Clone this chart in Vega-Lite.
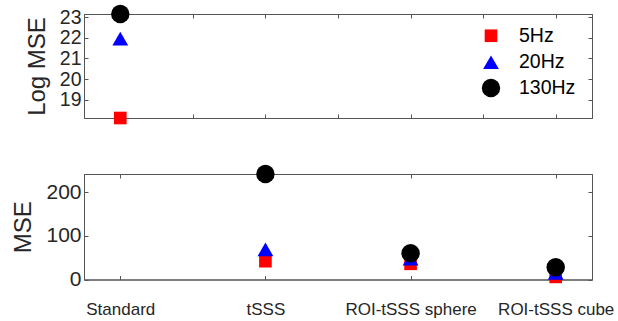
{
  "$schema": "https://vega.github.io/schema/vega-lite/v6.json",
  "padding": {"left": 11, "top": 4, "right": 5, "bottom": 5},
  "spacing": 39,
  "datasets": {
    "top": [
      {"method": "Standard", "k": 1, "freq": "5Hz", "value": 18.11},
      {"method": "Standard", "k": 1, "freq": "20Hz", "value": 21.96},
      {"method": "Standard", "k": 1, "freq": "130Hz", "value": 23.16}
    ],
    "bottom": [
      {"method": "tSSS", "freq": "5Hz", "value": 42},
      {"method": "ROI-tSSS sphere", "freq": "5Hz", "value": 36},
      {"method": "ROI-tSSS cube", "freq": "5Hz", "value": 6},
      {"method": "tSSS", "freq": "20Hz", "value": 69},
      {"method": "ROI-tSSS sphere", "freq": "20Hz", "value": 48},
      {"method": "ROI-tSSS cube", "freq": "20Hz", "value": 15},
      {"method": "tSSS", "freq": "130Hz", "value": 242},
      {"method": "ROI-tSSS sphere", "freq": "130Hz", "value": 60},
      {"method": "ROI-tSSS cube", "freq": "130Hz", "value": 28}
    ]
  },
  "vconcat": [
    {
      "width": 508,
      "height": 104,
      "data": {"name": "top"},
      "layer": [
        {
          "mark": {"type": "point", "filled": true, "opacity": 1},
          "encoding": {
            "x": {"field": "k", "type": "quantitative",
              "scale": {"domain": [0.75, 4.25], "nice": false, "zero": false},
              "axis": {"orient": "bottom", "values": [1, 1.5, 2, 2.5, 3, 3.5, 4], "labels": false, "title": null}},
            "y": {"field": "value", "type": "quantitative",
              "scale": {"domain": [18.11, 23.16], "nice": false, "zero": false},
              "axis": {"orient": "left", "values": [19, 20, 21, 22, 23], "title": "Log MSE", "labelFontSize": 19.5}},
            "color": {"field": "freq", "type": "ordinal",
              "scale": {"domain": ["5Hz", "20Hz", "130Hz"], "range": ["#ff0000", "#0000ff", "#000000"]},
              "legend": {"title": null, "orient": "none", "legendX": 397, "legendY": 12}},
            "shape": {"field": "freq", "type": "ordinal",
              "scale": {"domain": ["5Hz", "20Hz", "130Hz"], "range": ["square", "triangle-up", "circle"]},
              "legend": {"title": null, "orient": "none", "legendX": 397, "legendY": 12}},
            "size": {"field": "freq", "type": "ordinal",
              "scale": {"domain": ["5Hz", "20Hz", "130Hz"], "range": [160, 340, 256]},
              "legend": {"title": null, "orient": "none", "legendX": 397, "legendY": 12}}
          }
        },
        {
          "mark": {"type": "point", "opacity": 0},
          "encoding": {
            "x": {"field": "k", "type": "quantitative",
              "axis": {"orient": "top", "values": [1, 1.5, 2, 2.5, 3, 3.5, 4], "labels": false, "title": null}},
            "y": {"field": "value", "type": "quantitative",
              "axis": {"orient": "right", "values": [19, 20, 21, 22, 23], "labels": false, "title": null}}
          }
        }
      ],
      "resolve": {"axis": {"x": "independent", "y": "independent"}}
    },
    {
      "width": 508,
      "height": 105.5,
      "data": {"name": "bottom"},
      "layer": [
        {
          "mark": {"type": "point", "filled": true, "opacity": 1},
          "encoding": {
            "x": {"field": "method", "type": "nominal",
              "scale": {"type": "point", "domain": ["Standard", "tSSS", "ROI-tSSS sphere", "ROI-tSSS cube"], "padding": 0.25},
              "axis": {"orient": "bottom", "title": null, "labelAngle": 0, "labelFontSize": 17, "labelPadding": 26}},
            "y": {"field": "value", "type": "quantitative",
              "scale": {"domain": [0, 242], "nice": false},
              "axis": {"orient": "left", "values": [0, 100, 200], "title": "MSE"}},
            "color": {"field": "freq", "type": "ordinal",
              "scale": {"domain": ["5Hz", "20Hz", "130Hz"], "range": ["#ff0000", "#0000ff", "#000000"]},
              "legend": null},
            "shape": {"field": "freq", "type": "ordinal",
              "scale": {"domain": ["5Hz", "20Hz", "130Hz"], "range": ["square", "triangle-up", "circle"]},
              "legend": null},
            "size": {"field": "freq", "type": "ordinal",
              "scale": {"domain": ["5Hz", "20Hz", "130Hz"], "range": [160, 340, 256]},
              "legend": null}
          }
        },
        {
          "mark": {"type": "point", "opacity": 0},
          "encoding": {
            "x": {"field": "method", "type": "nominal",
              "axis": {"orient": "top", "labels": false, "title": null}},
            "y": {"field": "value", "type": "quantitative",
              "axis": {"orient": "right", "values": [0, 100, 200], "labels": false, "title": null}}
          }
        }
      ],
      "resolve": {"axis": {"x": "independent", "y": "independent"}}
    }
  ],
  "resolve": {"scale": {"color": "independent", "shape": "independent", "size": "independent"}, "legend": {"color": "independent", "shape": "independent", "size": "independent"}},
  "config": {
    "font": "Liberation Sans",
    "view": {"stroke": "#555555", "strokeWidth": 1},
    "axis": {
      "domainColor": "#555555",
      "tickColor": "#555555",
      "tickSize": -4,
      "grid": false,
      "labelOverlap": false,
      "labelFont": "Liberation Sans",
      "labelFontSize": 21,
      "labelColor": "#262626",
      "labelPadding": 7,
      "titleFont": "Liberation Sans",
      "titleFontSize": 24,
      "titleFontWeight": "normal",
      "titleColor": "#262626",
      "titlePadding": 10
    },
    "legend": {
      "labelFont": "Liberation Sans",
      "labelFontSize": 19.5,
      "labelColor": "#000000",
      "labelOffset": 18,
      "rowPadding": 5.5,
      "padding": 0
    }
  }
}
